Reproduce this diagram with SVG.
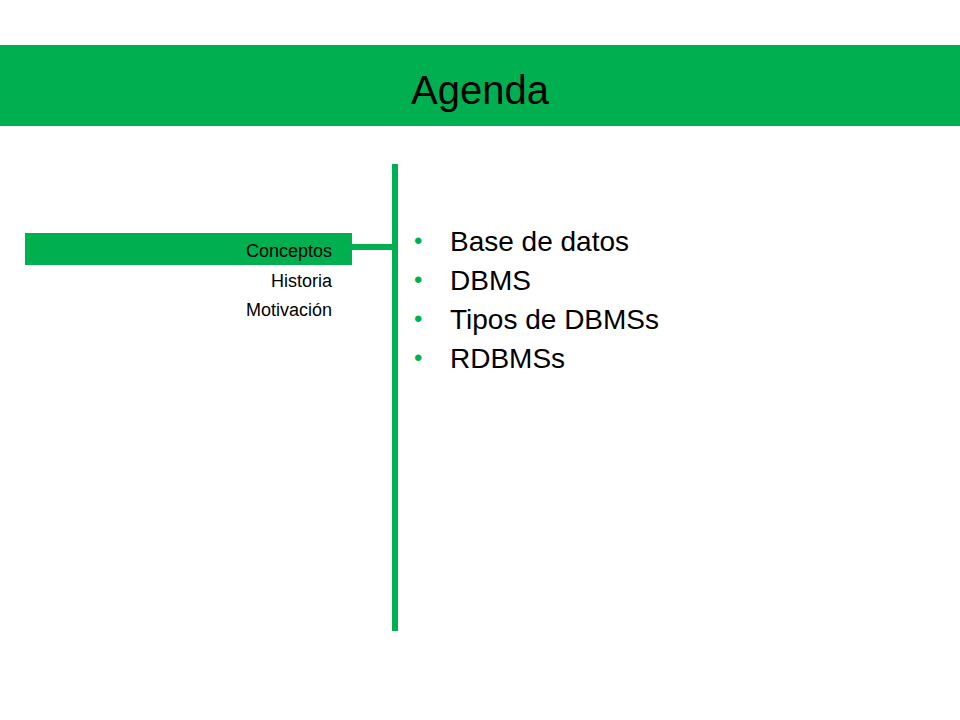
<svg xmlns="http://www.w3.org/2000/svg" width="960" height="720" viewBox="0 0 960 720">
<style>
.s{font-family:"Liberation Sans",Arial,sans-serif;font-size:18px;fill:#000;text-anchor:end}
.b{font-family:"Liberation Sans",Arial,sans-serif;font-size:28px;fill:#000}
.d{font-family:"Liberation Sans",Arial,sans-serif;font-size:24px;fill:#00B050}
</style>
<rect width="960" height="720" fill="#fff"/>
<g id="header"><rect x="0" y="45" width="960" height="81" fill="#00B050"/>
<text x="480" y="104" text-anchor="middle" font-family="Liberation Sans,Arial,sans-serif" font-size="40">Agenda</text></g>
<g id="connectors">
<rect x="392" y="164" width="6" height="467" fill="#00B050"/>
<rect x="352" y="244" width="40" height="6" fill="#00B050"/>
</g>
<g id="menu">
<rect x="25" y="233" width="327" height="32" fill="#00B050"/>
<text class="s" x="332" y="257">Conceptos</text>
<text class="s" x="332" y="287">Historia</text>
<text class="s" x="332" y="316">Motivación</text>
</g>
<g id="list">
<text class="d" x="414" y="249">•</text><text class="b" x="450" y="251">Base de datos</text>
<text class="d" x="414" y="288">•</text><text class="b" x="450" y="290">DBMS</text>
<text class="d" x="414" y="327">•</text><text class="b" x="450" y="329">Tipos de DBMSs</text>
<text class="d" x="414" y="366">•</text><text class="b" x="450" y="368">RDBMSs</text>
</g>
</svg>
